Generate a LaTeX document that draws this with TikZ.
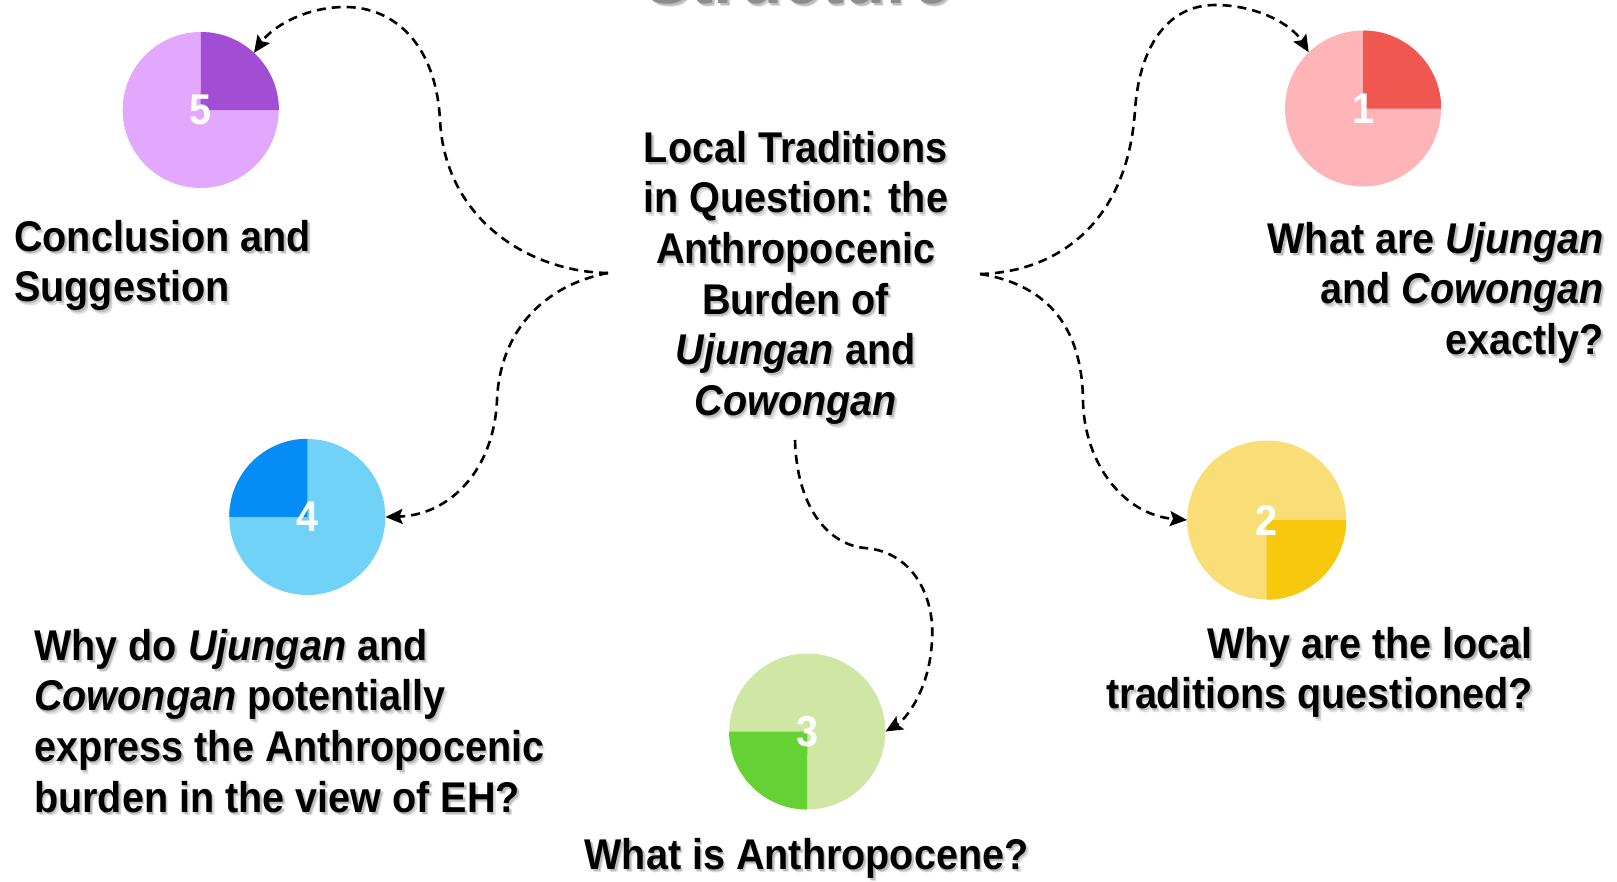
\documentclass[tikz,border=0pt]{standalone}
\usepackage{fontspec}
\setmainfont{Liberation Sans}[FakeStretch=0.92]
\usetikzlibrary{arrows.meta}

\definecolor{purpleL}{HTML}{E2A8FE}\definecolor{purpleD}{HTML}{A24ED4}
\definecolor{redL}{HTML}{FFB5B7}\definecolor{redD}{HTML}{EF5750}
\definecolor{blueL}{HTML}{70D2F7}\definecolor{blueD}{HTML}{068CF5}
\definecolor{greenL}{HTML}{D0E6A4}\definecolor{greenD}{HTML}{64D134}
\definecolor{yellowL}{HTML}{F9DE78}\definecolor{yellowD}{HTML}{F8C80C}

% text with a soft drop shadow: name, options, position, contents
\newcommand\shadowtext[4]{%
  \node[#2, text=black, text opacity=.16, xshift=1.5pt, yshift=-2pt] (#1-s1) at (#3) {#4};
  \node[#2, text=black, text opacity=.12, xshift=2.8pt, yshift=-3.6pt] (#1-s2) at (#3) {#4};
  \node[#2] (#1) at (#3) {#4};
}

\tikzset{
  label/.style={font=\fontsize{43}{50.7}\selectfont\bfseries, inner sep=0pt, text=black},
  pie/.style={circle, inner sep=0pt, minimum size=#1},
  num/.style={font=\fontsize{43}{50}\selectfont\bfseries, text=white, inner sep=0pt},
  link/.style={line width=2.6pt, dash pattern=on 9pt off 6pt,
    -{Stealth[length=17pt, width=15pt, inset=3pt]}},
}

\begin{document}
\begin{tikzpicture}[x=1pt, y=-1pt]
\useasboundingbox (0,0) rectangle (1617,881);
\clip (0,0) rectangle (1617,881);

% heading, mostly above the top edge
\shadowtext{head}{font=\fontsize{75}{80}\selectfont\bfseries, text=black!45, anchor=base, inner sep=0pt}{798,3}{Structure}

% central topic (base anchor = baseline of the last line)
\shadowtext{topic}{label, align=center, anchor=base}{795.6,415.5}{Local Traditions\\in Question: the\\Anthropocenic\\Burden of\\\textit{Ujungan} and\\\textit{Cowongan}}

% pie markers
\node[pie=156pt, fill=purpleL] (p5) at (200.7,110) {};
\fill[purpleD] (p5.center) -- (p5.east) arc[start angle=0, end angle=90, radius=78pt] -- cycle;
\node[num] (n5) at (p5.center) {5};

\node[pie=156pt, fill=redL] (p1) at (1363,108.5) {};
\fill[redD] (p1.center) -- (p1.east) arc[start angle=0, end angle=90, radius=78pt] -- cycle;
\node[num] (n1) at (p1.center) {1};

\node[pie=156pt, fill=blueL] (p4) at (307.3,517) {};
\fill[blueD] (p4.center) -- (p4.north) arc[start angle=90, end angle=180, radius=78pt] -- cycle;
\node[num] (n4) at (p4.center) {4};

\node[pie=156pt, fill=greenL] (p3) at (807.3,731.5) {};
\fill[greenD] (p3.center) -- (p3.west) arc[start angle=180, end angle=270, radius=78pt] -- cycle;
\node[num] (n3) at (p3.center) {3};

\node[pie=159pt, fill=yellowL] (p2) at (1266.7,520) {};
\fill[yellowD] (p2.center) -- (p2.south) arc[start angle=270, end angle=360, radius=79.5pt] -- cycle;
\node[num] (n2) at (p2.center) {2};

% item labels
\shadowtext{t5}{label, align=left, anchor=base west}{14,301.7}{Conclusion and\\Suggestion}
\shadowtext{t1}{label, align=right, anchor=base east}{1604,354.4}{What are \textit{Ujungan}\\and \textit{Cowongan}\\exactly?}
\shadowtext{t4}{label, align=left, anchor=base west}{34,812.1}{Why do \textit{Ujungan} and\\\textit{Cowongan} potentially\\express the Anthropocenic\\burden in the view of EH?}
\shadowtext{t2}{label, align=right, anchor=base east}{1533,708.7}{Why are the local\\traditions questioned?}
\shadowtext{t3}{label, anchor=base}{806.5,869}{What is Anthropocene?}

% connector origins beside the topic
\coordinate (oL) at (608,273);
\coordinate (oR) at (980,274);
\coordinate (oB) at (795,440);

% connectors
\draw[link] (oL) .. controls (530,272) and (445,220) .. (440,120)
  .. controls (436,45) and (395,7) .. (345,7)
  .. controls (305,7) and (272,27) .. (p5.47);
\draw[link] (oR) .. controls (1060,272) and (1128,220) .. (1135,110)
  .. controls (1140,40) and (1172,5) .. (1215,5)
  .. controls (1258,5) and (1292,25) .. (p1.134);
\draw[link] (oR) .. controls (1050,285) and (1082,330) .. (1083,400)
  .. controls (1084,465) and (1125,515) .. (p2.west);
\draw[link] (oL) .. controls (545,285) and (500,330) .. (497,400)
  .. controls (494,470) and (450,515) .. (p4.east);
\draw[link] (oB) .. controls (797,510) and (830,545) .. (865,548)
  .. controls (915,552) and (935,600) .. (932,640)
  .. controls (930,690) and (905,720) .. (p3.east);
\end{tikzpicture}
\end{document}
